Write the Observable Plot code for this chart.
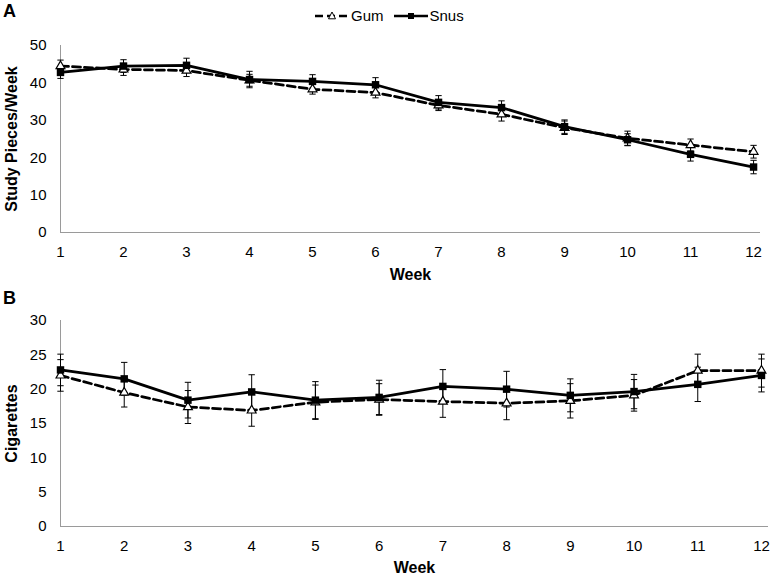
<!DOCTYPE html>
<html>
<head>
<meta charset="utf-8">
<script src="https://cdn.jsdelivr.net/npm/d3@7"></script>
<script src="https://cdn.jsdelivr.net/npm/@observablehq/plot@0.6"></script>
<style>
  body { margin: 0; background: #fff; font-family: Arial, "Liberation Sans", sans-serif; }
  #wrap { position: relative; width: 770px; height: 574px; overflow: hidden; }
  #chartA, #chartB { position: absolute; left: 0; }
  #chartA { top: 0; }
  #chartB { top: 287px; }
  .plabel { position: absolute; left: 3px; font-weight: bold; font-size: 18px; line-height: 18px; }
  #legend { position: absolute; top: 6px; left: 315px; height: 18px; font-size: 15px; line-height: 18px; white-space: nowrap; }
  #legend svg { display: inline-block; vertical-align: middle; }
  #legend .lt { display: inline-block; vertical-align: middle; }
  svg [aria-label="y-axis label"], svg [aria-label="x-axis label"] { font-weight: bold; font-size: 16px; }
</style>
</head>
<body>
<div id="wrap">
  <div id="chartA"></div>
  <div id="chartB"></div>
  <div class="plabel" style="top:2px">A</div>
  <div class="plabel" style="top:289px">B</div>
  <div id="legend">
    <svg width="34" height="14"><line x1="0" y1="7" x2="34" y2="7" stroke="#000" stroke-width="2.5" stroke-dasharray="8,4"/><path d="M17,3 L20.5,9.8 L13.5,9.8 Z" fill="#fff" stroke="#000" stroke-width="1"/></svg><span class="lt" style="margin-left:2px;margin-right:10px">Gum</span><svg width="34" height="14"><line x1="0" y1="7" x2="34" y2="7" stroke="#000" stroke-width="2.5"/><rect x="14" y="4" width="6" height="6" fill="#000"/></svg><span class="lt" style="margin-left:2px">Snus</span>
  </div>
</div>
<script>
const weeks = [1, 2, 3, 4, 5, 6, 7, 8, 9, 10, 11, 12];
const series = ["Gum", "Snus"];

// Panel A: study pieces per week
const gumPieces    = [44.5, 43.6, 43.3, 40.7, 38.3, 37.4, 34.0, 31.6, 28.0, 25.2, 23.4, 21.6];
const gumPiecesSE  = [1.6, 1.6, 1.6, 1.6, 1.3, 1.4, 1.4, 1.8, 1.8, 1.9, 1.6, 1.7];
const snusPieces   = [42.8, 44.5, 44.7, 40.9, 40.4, 39.5, 34.8, 33.4, 28.3, 24.8, 20.9, 17.5];
const snusPiecesSE = [1.6, 1.7, 1.9, 2.2, 1.8, 1.9, 1.8, 1.8, 1.8, 1.6, 1.8, 1.8];

// Panel B: cigarettes
const gumCigs    = [22.0, 19.5, 17.4, 16.9, 18.1, 18.5, 18.2, 17.95, 18.3, 19.1, 22.7, 22.7];
const gumCigsSE  = [2.3, 2.1, 2.4, 2.3, 2.5, 2.3, 2.3, 2.4, 2.5, 2.3, 2.4, 2.4];
const snusCigs   = [22.8, 21.5, 18.4, 19.6, 18.4, 18.8, 20.4, 20.0, 19.1, 19.65, 20.7, 22.0];
const snusCigsSE = [2.3, 2.4, 2.6, 2.5, 2.7, 2.5, 2.45, 2.6, 2.4, 2.5, 2.5, 2.4];

const yTicksA = [0, 10, 20, 30, 40, 50];
const yTicksB = [0, 5, 10, 15, 20, 25, 30];

function rowsFor(name, vals, errs) {
  return weeks.map((w, i) => ({week: w, series: name, value: vals[i], err: errs[i]}));
}

function panel({gum, snus, yDomain, yTicks, yLabel, height, marginTop, marginBottom, marginRight, xLabelOffset}) {
  const all = gum.concat(snus);
  const lo = d => d.value - d.err;
  const hi = d => d.value + d.err;
  const cap = 0.05;
  return Plot.plot({
    width: 770,
    height,
    marginLeft: 60,
    marginRight,
    marginTop,
    marginBottom,
    style: {fontFamily: 'Arial, "Liberation Sans", sans-serif', fontSize: "15px", color: "#000", background: "#fff", overflow: "visible"},
    x: {type: "linear", domain: [1, 12.11]},
    y: {domain: yDomain},
    marks: [
      Plot.ruleY([0], {stroke: "#9a9a9a", strokeWidth: 1}),
      Plot.ruleX([1], {stroke: "#9a9a9a", strokeWidth: 1}),
      Plot.axisX(weeks, {tickSize: 0, tickPadding: 14, tickFormat: d => String(d), label: "Week", labelAnchor: "center", labelOffset: xLabelOffset, labelArrow: "none"}),
      Plot.axisY(yTicks, {tickSize: 0, tickPadding: 14, label: yLabel, labelAnchor: "center", labelOffset: 55, labelArrow: "none"}),
      // error bars
      Plot.link(all, {x1: "week", x2: "week", y1: lo, y2: hi, stroke: "#000", strokeWidth: 1}),
      Plot.link(all, {x1: d => d.week - cap, x2: d => d.week + cap, y1: lo, y2: lo, stroke: "#000", strokeWidth: 1}),
      Plot.link(all, {x1: d => d.week - cap, x2: d => d.week + cap, y1: hi, y2: hi, stroke: "#000", strokeWidth: 1}),
      // lines
      Plot.line(gum, {x: "week", y: "value", stroke: "#000", strokeWidth: 2.75, strokeDasharray: "8,4"}),
      Plot.line(snus, {x: "week", y: "value", stroke: "#000", strokeWidth: 2.75}),
      // markers
      Plot.dot(gum, {x: "week", y: "value", symbol: "triangle", r: 3.3, fill: "#fff", stroke: "#000", strokeWidth: 1.2}),
      Plot.dot(snus, {x: "week", y: "value", symbol: "square", r: 4.2, fill: "#000", stroke: "none"})
    ]
  });
}

const chartA = panel({
  gum: rowsFor(series[0], gumPieces, gumPiecesSE),
  snus: rowsFor(series[1], snusPieces, snusPiecesSE),
  yDomain: [0, 50], yTicks: yTicksA, yLabel: "Study Pieces/Week",
  height: 287, marginTop: 45, marginBottom: 55, marginRight: 10, xLabelOffset: 47
});
document.getElementById("chartA").appendChild(chartA);

const chartB = panel({
  gum: rowsFor(series[0], gumCigs, gumCigsSE),
  snus: rowsFor(series[1], snusCigs, snusCigsSE),
  yDomain: [0, 30], yTicks: yTicksB, yLabel: "Cigarettes",
  height: 287, marginTop: 33, marginBottom: 48, marginRight: 2, xLabelOffset: 46
});
document.getElementById("chartB").appendChild(chartB);
</script>
</body>
</html>
